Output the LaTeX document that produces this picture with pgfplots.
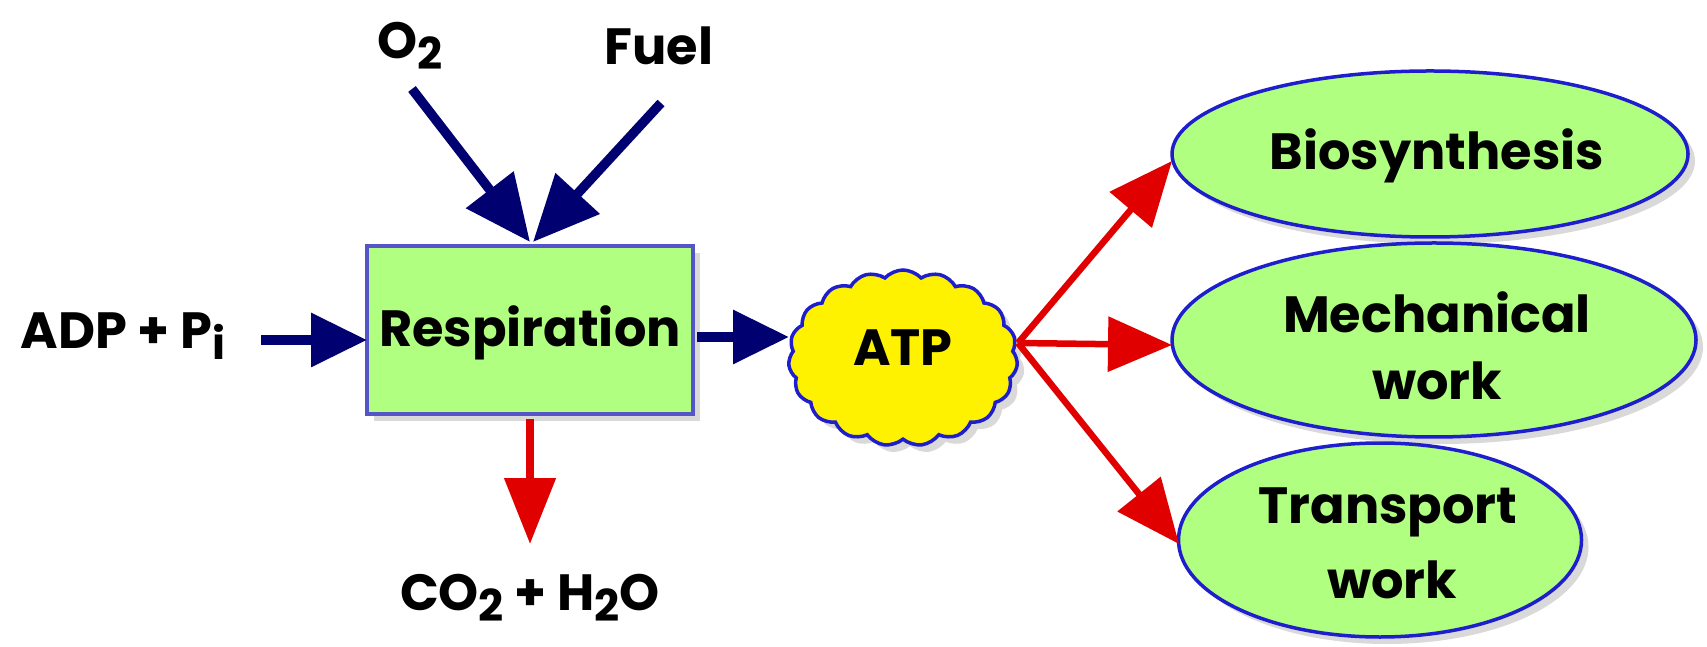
\documentclass[border=0pt]{standalone}
\usepackage{pgfplots}
\pgfplotsset{compat=1.18}
\usepackage{fontspec}
\setmainfont{Poppins}
\usetikzlibrary{arrows.meta,shapes.geometric,shapes.symbols,shadows}
\definecolor{navy}{RGB}{0,0,112}
\definecolor{myred}{RGB}{224,0,0}
\definecolor{lgreen}{RGB}{176,255,128}
\definecolor{bord}{RGB}{30,30,205}
\definecolor{boxbord}{RGB}{85,85,200}
\newcommand{\sub}[1]{\raisebox{-0.4ex}{\fontsize{12.5}{12}\selectfont #1}}
\begin{document}
\begin{tikzpicture}
\begin{axis}[scale only axis, width=17.07cm, height=6.47cm,
  xmin=0, xmax=1707, ymin=0, ymax=647, y dir=reverse,
  hide axis, clip=false]
\addplot[draw=none] coordinates {(0,0) (1707,647)};
% shapes
\node[draw=boxbord, line width=0.4mm, fill=lgreen, minimum width=32.6mm, minimum height=16.8mm, inner sep=0pt,
  drop shadow={shadow xshift=0.7mm, shadow yshift=-0.7mm, opacity=0.3}] at (axis cs:530,330) {};
\node[cloud, cloud puffs=19, cloud puff arc=95, aspect=1.3, draw=bord, fill=yellow, line width=0.35mm,
  minimum width=22.9mm, minimum height=17.6mm, inner sep=0pt,
  drop shadow={shadow xshift=0.7mm, shadow yshift=-0.7mm, opacity=0.3}] at (axis cs:903,358) {};
\node[ellipse, draw=bord, line width=0.35mm, fill=lgreen, minimum width=51.6mm, minimum height=16.6mm, inner sep=0pt,
  drop shadow={shadow xshift=0.7mm, shadow yshift=-0.7mm, opacity=0.3}] at (axis cs:1430,154) {};
\node[ellipse, draw=bord, line width=0.35mm, fill=lgreen, minimum width=52.4mm, minimum height=19.4mm, inner sep=0pt,
  drop shadow={shadow xshift=0.7mm, shadow yshift=-0.7mm, opacity=0.3}] at (axis cs:1434,340) {};
\node[ellipse, draw=bord, line width=0.35mm, fill=lgreen, minimum width=40.3mm, minimum height=19.4mm, inner sep=0pt,
  drop shadow={shadow xshift=0.7mm, shadow yshift=-0.7mm, opacity=0.3}] at (axis cs:1380,540) {};
% texts
\tikzset{lbl/.style={font=\fontsize{14.5}{17}\selectfont\bfseries, inner sep=0pt}}
\node[lbl] at (axis cs:530,333) {Respiration};
\node[lbl] at (axis cs:903,348) {ATP};
\node[lbl] at (axis cs:1437,156) {Biosynthesis};
\node[lbl] at (axis cs:1437,312) {Mechanical};
\node[lbl] at (axis cs:1437,381) {work};
\node[lbl] at (axis cs:1388,512) {Transport};
\node[lbl] at (axis cs:1392,580) {work};
\node[lbl] at (axis cs:410,46) {O\sub{2}};
\node[lbl] at (axis cs:659,46) {Fuel};
\node[lbl, anchor=west] at (axis cs:20,336) {ADP + P\sub{i}};
\node[lbl] at (axis cs:530,598) {CO\sub{2} + H\sub{2}O};
% arrows
\addplot[navy, line width=0.95mm, -{Triangle[length=6.6mm,width=5.8mm]}] coordinates {(412,89) (530,242)};
\addplot[navy, line width=0.95mm, -{Triangle[length=6.6mm,width=5.8mm]}] coordinates {(661,103) (533,242)};
\addplot[navy, line width=0.95mm, -{Triangle[length=5.6mm,width=5.2mm]}] coordinates {(261,340) (367,340)};
\addplot[navy, line width=0.95mm, -{Triangle[length=5.6mm,width=5.2mm]}] coordinates {(697,337) (789,337)};
\addplot[myred, line width=0.8mm, -{Triangle[length=6.6mm,width=5mm]}] coordinates {(530,419) (530,544)};
\addplot[myred, line width=0.65mm, -{Triangle[length=6.4mm,width=5.4mm]}] coordinates {(1018,343) (1172,161)};
\addplot[myred, line width=0.65mm, -{Triangle[length=6.4mm,width=5.4mm]}] coordinates {(1018,343) (1172,345)};
\addplot[myred, line width=0.65mm, -{Triangle[length=6.4mm,width=5.4mm]}] coordinates {(1018,343) (1179,544)};
\end{axis}
\end{tikzpicture}
\end{document}
